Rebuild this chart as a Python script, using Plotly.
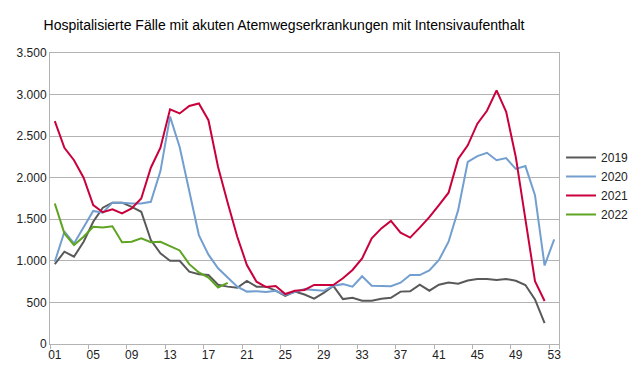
import plotly.graph_objects as go

weeks = [f"{i:02d}" for i in range(1, 54)]
tick_labels = [f"{i:02d}" for i in range(1, 54, 4)]

y2019 = [960, 1110, 1050, 1230, 1470, 1640, 1700, 1700, 1650, 1590,
         1250, 1090, 1000, 1000, 870, 840, 830, 712, 690, 677,
         758, 690, 690, 642, 580, 630, 595, 545, 615, 698,
         540, 555, 520, 520, 545, 555, 630, 633, 713, 641,
         713, 739, 725, 763, 781, 781, 770, 783, 760, 709,
         537, 252]

y2020 = [990, 1350, 1210, 1400, 1600, 1580, 1700, 1700, 1690, 1690,
         1710, 2080, 2735, 2370, 1850, 1310, 1075, 910, 800, 690,
         630, 635, 625, 640, 590, 627, 660, 650, 640, 700,
         720, 690, 815, 700, 695, 695, 737, 829, 829, 885,
         1010, 1230, 1610, 2190, 2260, 2300, 2210, 2236, 2106, 2140,
         1790, 944, 1258]

y2021 = [2680, 2360, 2210, 2000, 1670, 1585, 1620, 1570, 1630, 1750,
         2120, 2360, 2823, 2773, 2863, 2893, 2692, 2130, 1700, 1290,
         950, 750, 685, 697, 601, 640, 650, 710, 710, 710,
         790, 890, 1030, 1270, 1390, 1480, 1340, 1280, 1400, 1525,
         1670, 1820, 2225, 2390, 2650, 2805, 3050, 2793, 2250, 1500,
         755, 517]

y2022 = [1690, 1330, 1190, 1290, 1410, 1400, 1415, 1225, 1230, 1270,
         1225, 1230, 1178, 1125, 960, 860, 800, 680, 735]

series = [
    ("2019", y2019, "#595959"),
    ("2020", y2020, "#729fcf"),
    ("2021", y2021, "#c9003c"),
    ("2022", y2022, "#5ea322"),
]

fig = go.Figure()
for name, vals, color in series:
    fig.add_trace(go.Scatter(
        x=weeks[:len(vals)], y=vals, name=name, mode="lines",
        line=dict(color=color, width=2),
    ))

fig.update_layout(
    width=640, height=371,
    margin=dict(l=50, r=81, t=53, b=27, autoexpand=False),
    paper_bgcolor="white", plot_bgcolor="white",
    font=dict(family="Liberation Sans", size=12, color="#333333"),
    separators=",.",
    title=dict(
        text="Hospitalisierte Fälle mit akuten Atemwegserkrankungen mit Intensivaufenthalt",
        font=dict(family="Liberation Sans", size=14, color="#000000"),
        x=284 / 640, xref="container", xanchor="center",
        y=1 - 25 / 371, yref="container", yanchor="middle",
    ),
    legend=dict(
        x=1.004, xanchor="left", y=0.543, yanchor="middle",
        font=dict(family="Liberation Sans", size=12, color="#222222"),
        bgcolor="rgba(0,0,0,0)", itemwidth=30,
    ),
    showlegend=True,
)

fig.update_xaxes(
    type="category", categoryorder="array", categoryarray=weeks,
    range=[-0.5, 52.5], automargin=False,
    tickmode="array", tickvals=tick_labels, ticktext=tick_labels, tickangle=0,
    tickson="boundaries", ticks="outside", ticklen=4, tickcolor="#b3b3b3",
    showgrid=False, showline=True, linecolor="#b3b3b3", linewidth=1, mirror=True,
    tickfont=dict(size=12, color="#222222"),
)
fig.update_yaxes(
    range=[0, 3500], dtick=500, tickformat=",d", automargin=False,
    showgrid=True, gridcolor="#b3b3b3", gridwidth=1,
    zeroline=False, showline=True, linecolor="#b3b3b3", linewidth=1, mirror=True,
    ticks="", tickfont=dict(size=12, color="#222222"),
)

fig.write_html("out.html", config={"displayModeBar": False},
               post_script="document.body.style.margin='0';")
